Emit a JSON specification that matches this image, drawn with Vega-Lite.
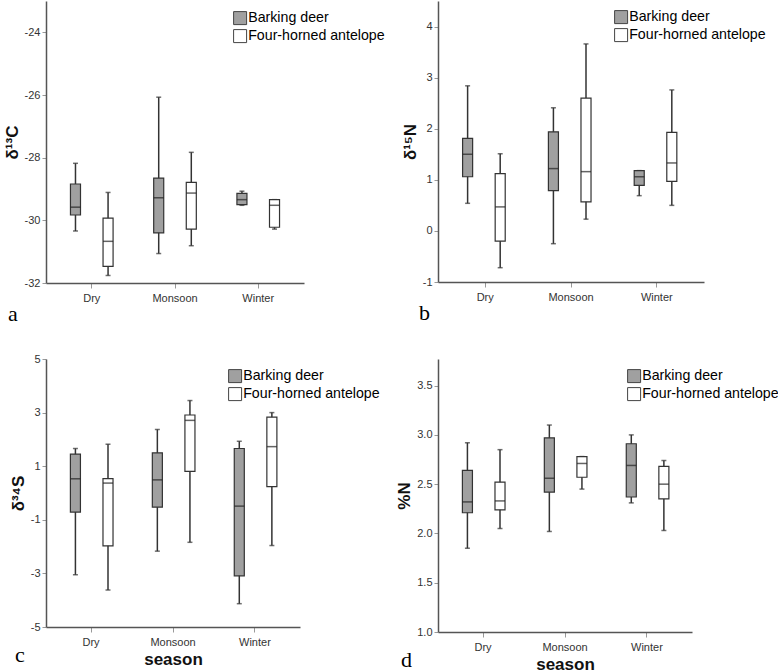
{
  "$schema": "https://vega.github.io/schema/vega-lite/v6.json",
  "background": "white",
  "padding": {"left": 3, "top": 1, "right": 0, "bottom": 0},
  "config": {
    "view": {"stroke": null},
    "font": "Liberation Sans",
    "axis": {"grid": false, "domainColor": "#555", "domainWidth": 1.5, "tickColor": "#999", "tickSize": 4, "tickWidth": 1, "labelColor": "#333", "labelFontSize": 11, "labelFont": "Liberation Sans", "titleFont": "Liberation Sans", "titleFontSize": 17, "titleFontWeight": "bold", "titleColor": "#111"},
    "axisX": {"labelAngle": 0, "labelPadding": 4, "tickSize": 5, "domainWidth": 1.5},
    "axisY": {"labelPadding": 2, "titlePadding": 3, "labelExpr": "replace(datum.label, '−', '-')"},
    "legend": {"orient": "none", "title": null, "symbolType": "square", "symbolSize": 169, "symbolStrokeColor": "#444", "symbolStrokeWidth": 1, "labelFontSize": 14.2, "labelFont": "Liberation Sans", "labelColor": "#000", "rowPadding": 0, "labelOffset": 1},
    "title": {"font": "Liberation Serif", "fontSize": 22, "fontWeight": "normal", "color": "#000", "orient": "bottom", "anchor": "start", "frame": "group"}
  },
  "datasets": {
    "c13": [
      {"season": "Dry", "species": "Barking deer", "min": -30.34, "q1": -29.83, "median": -29.58, "q3": -28.84, "max": -28.18},
      {"season": "Dry", "species": "Four-horned antelope", "min": -31.76, "q1": -31.47, "median": -30.67, "q3": -29.93, "max": -29.11},
      {"season": "Monsoon", "species": "Barking deer", "min": -31.06, "q1": -30.40, "median": -29.28, "q3": -28.65, "max": -26.07},
      {"season": "Monsoon", "species": "Four-horned antelope", "min": -30.81, "q1": -30.28, "median": -29.13, "q3": -28.79, "max": -27.83},
      {"season": "Winter", "species": "Barking deer", "min": -29.52, "q1": -29.50, "median": -29.34, "q3": -29.14, "max": -29.07},
      {"season": "Winter", "species": "Four-horned antelope", "min": -30.28, "q1": -30.22, "median": -29.52, "q3": -29.34, "max": -29.34}
    ],
    "n15": [
      {"season": "Dry", "species": "Barking deer", "min": 0.54, "q1": 1.06, "median": 1.50, "q3": 1.81, "max": 2.84},
      {"season": "Dry", "species": "Four-horned antelope", "min": -0.72, "q1": -0.20, "median": 0.47, "q3": 1.12, "max": 1.51},
      {"season": "Monsoon", "species": "Barking deer", "min": -0.25, "q1": 0.79, "median": 1.22, "q3": 1.94, "max": 2.41},
      {"season": "Monsoon", "species": "Four-horned antelope", "min": 0.23, "q1": 0.57, "median": 1.16, "q3": 2.60, "max": 3.66},
      {"season": "Winter", "species": "Barking deer", "min": 0.69, "q1": 0.89, "median": 1.06, "q3": 1.18, "max": 1.18},
      {"season": "Winter", "species": "Four-horned antelope", "min": 0.50, "q1": 0.97, "median": 1.33, "q3": 1.93, "max": 2.76}
    ],
    "s34": [
      {"season": "Dry", "species": "Barking deer", "min": -3.05, "q1": -0.71, "median": 0.53, "q3": 1.45, "max": 1.66},
      {"season": "Dry", "species": "Four-horned antelope", "min": -3.62, "q1": -1.97, "median": 0.37, "q3": 0.54, "max": 1.82},
      {"season": "Monsoon", "species": "Barking deer", "min": -2.17, "q1": -0.53, "median": 0.49, "q3": 1.50, "max": 2.37},
      {"season": "Monsoon", "species": "Four-horned antelope", "min": -1.84, "q1": 0.81, "median": 2.71, "q3": 2.91, "max": 3.45},
      {"season": "Winter", "species": "Barking deer", "min": -4.13, "q1": -3.09, "median": -0.49, "q3": 1.66, "max": 1.93},
      {"season": "Winter", "species": "Four-horned antelope", "min": -1.96, "q1": 0.24, "median": 1.73, "q3": 2.83, "max": 3.00}
    ],
    "pn": [
      {"season": "Dry", "species": "Barking deer", "min": 1.85, "q1": 2.21, "median": 2.32, "q3": 2.64, "max": 2.92},
      {"season": "Dry", "species": "Four-horned antelope", "min": 2.05, "q1": 2.24, "median": 2.33, "q3": 2.52, "max": 2.85},
      {"season": "Monsoon", "species": "Barking deer", "min": 2.02, "q1": 2.42, "median": 2.56, "q3": 2.97, "max": 3.10},
      {"season": "Monsoon", "species": "Four-horned antelope", "min": 2.45, "q1": 2.57, "median": 2.71, "q3": 2.78, "max": 2.78},
      {"season": "Winter", "species": "Barking deer", "min": 2.31, "q1": 2.37, "median": 2.69, "q3": 2.91, "max": 3.00},
      {"season": "Winter", "species": "Four-horned antelope", "min": 2.03, "q1": 2.35, "median": 2.50, "q3": 2.68, "max": 2.74}
    ]
  },
  "bounds": "flush",
  "columns": 2,
  "spacing": {"row": 76, "column": 134},
  "resolve": {"scale": {"x": "independent", "y": "independent", "fill": "independent"}, "axis": {"x": "independent", "y": "independent"}, "legend": {"fill": "independent"}},
  "concat": [
    {
      "width": 258, "height": 282,
      "data": {"name": "c13"},
      "title": {"text": "a", "dx": -38, "offset": 1},
      "encoding": {
        "x": {"field": "season", "type": "nominal", "title": null, "scale": {"paddingInner": 0, "paddingOuter": 0.05}},
        "xOffset": {"field": "species", "type": "nominal", "scale": {"paddingInner": 0.692, "paddingOuter": 0.623}}
      },
      "layer": [
        {"mark": {"type": "rule", "color": "#333", "strokeWidth": 1.5}, "encoding": {"y": {"field": "min", "type": "quantitative", "title": "δ¹³C", "scale": {"domain": [-32, -23], "nice": false, "zero": false}, "axis": {"values": [-32, -30, -28, -26, -24], "format": "d"}}, "y2": {"field": "max"}}},
        {"mark": {"type": "tick", "size": 5, "thickness": 1.5, "color": "#333"}, "encoding": {"y": {"field": "min", "type": "quantitative", "title": "δ¹³C"}}},
        {"mark": {"type": "tick", "size": 5, "thickness": 1.5, "color": "#333"}, "encoding": {"y": {"field": "max", "type": "quantitative", "title": "δ¹³C"}}},
        {"mark": {"type": "bar", "stroke": "#333", "strokeWidth": 1.2}, "encoding": {"y": {"field": "q1", "type": "quantitative", "title": "δ¹³C"}, "y2": {"field": "q3"}, "fill": {"field": "species", "type": "nominal", "scale": {"domain": ["Barking deer", "Four-horned antelope"], "range": ["#a0a0a0", "#ffffff"]}, "legend": {"legendX": 187, "legendY": 10}}}},
        {"mark": {"type": "tick", "size": 10, "thickness": 1.5, "color": "#222"}, "encoding": {"y": {"field": "median", "type": "quantitative", "title": "δ¹³C"}}}
      ]
    },
    {
      "width": 266, "height": 281,
      "data": {"name": "n15"},
      "title": {"text": "b", "dx": -19, "offset": 1},
      "encoding": {
        "x": {"field": "season", "type": "nominal", "title": null, "scale": {"paddingInner": 0, "paddingOuter": 0.05}},
        "xOffset": {"field": "species", "type": "nominal", "scale": {"paddingInner": 0.692, "paddingOuter": 0.623}}
      },
      "layer": [
        {"mark": {"type": "rule", "color": "#333", "strokeWidth": 1.5}, "encoding": {"y": {"field": "min", "type": "quantitative", "title": "δ¹⁵N", "scale": {"domain": [-1, 4.5], "nice": false, "zero": false}, "axis": {"values": [-1, 0, 1, 2, 3, 4], "format": "d"}}, "y2": {"field": "max"}}},
        {"mark": {"type": "tick", "size": 5, "thickness": 1.5, "color": "#333"}, "encoding": {"y": {"field": "min", "type": "quantitative", "title": "δ¹⁵N"}}},
        {"mark": {"type": "tick", "size": 5, "thickness": 1.5, "color": "#333"}, "encoding": {"y": {"field": "max", "type": "quantitative", "title": "δ¹⁵N"}}},
        {"mark": {"type": "bar", "stroke": "#333", "strokeWidth": 1.2}, "encoding": {"y": {"field": "q1", "type": "quantitative", "title": "δ¹⁵N"}, "y2": {"field": "q3"}, "fill": {"field": "species", "type": "nominal", "scale": {"domain": ["Barking deer", "Four-horned antelope"], "range": ["#a0a0a0", "#ffffff"]}, "legend": {"legendX": 176, "legendY": 9}}}},
        {"mark": {"type": "tick", "size": 10, "thickness": 1.5, "color": "#222"}, "encoding": {"y": {"field": "median", "type": "quantitative", "title": "δ¹⁵N"}}}
      ]
    },
    {
      "width": 254, "height": 268,
      "data": {"name": "s34"},
      "title": {"text": "c", "dx": -31, "offset": -22},
      "encoding": {
        "x": {"field": "season", "type": "nominal", "title": "season", "axis": {"titleFontSize": 17, "titlePadding": 4}, "scale": {"paddingInner": 0, "paddingOuter": 0.05}},
        "xOffset": {"field": "species", "type": "nominal", "scale": {"paddingInner": 0.692, "paddingOuter": 0.623}}
      },
      "layer": [
        {"mark": {"type": "rule", "color": "#333", "strokeWidth": 1.5}, "encoding": {"y": {"field": "min", "type": "quantitative", "title": "δ³⁴S", "scale": {"domain": [-5, 5], "nice": false, "zero": false}, "axis": {"values": [-5, -3, -1, 1, 3, 5], "format": "d"}}, "y2": {"field": "max"}}},
        {"mark": {"type": "tick", "size": 5, "thickness": 1.5, "color": "#333"}, "encoding": {"y": {"field": "min", "type": "quantitative", "title": "δ³⁴S"}}},
        {"mark": {"type": "tick", "size": 5, "thickness": 1.5, "color": "#333"}, "encoding": {"y": {"field": "max", "type": "quantitative", "title": "δ³⁴S"}}},
        {"mark": {"type": "bar", "stroke": "#333", "strokeWidth": 1.2}, "encoding": {"y": {"field": "q1", "type": "quantitative", "title": "δ³⁴S"}, "y2": {"field": "q3"}, "fill": {"field": "species", "type": "nominal", "scale": {"domain": ["Barking deer", "Four-horned antelope"], "range": ["#a0a0a0", "#ffffff"]}, "legend": {"legendX": 182, "legendY": 10}}}},
        {"mark": {"type": "tick", "size": 10, "thickness": 1.5, "color": "#222"}, "encoding": {"y": {"field": "median", "type": "quantitative", "title": "δ³⁴S"}}}
      ]
    },
    {
      "width": 254, "height": 273,
      "data": {"name": "pn"},
      "title": {"text": "d", "dx": -37, "offset": -22},
      "encoding": {
        "x": {"field": "season", "type": "nominal", "title": "season", "axis": {"titleFontSize": 17, "titlePadding": 4}, "scale": {"paddingInner": 0, "paddingOuter": 0.05}},
        "xOffset": {"field": "species", "type": "nominal", "scale": {"paddingInner": 0.692, "paddingOuter": 0.623}}
      },
      "layer": [
        {"mark": {"type": "rule", "color": "#333", "strokeWidth": 1.5}, "encoding": {"y": {"field": "min", "type": "quantitative", "title": "%N", "scale": {"domain": [1, 3.77], "nice": false, "zero": false}, "axis": {"values": [1, 1.5, 2, 2.5, 3, 3.5], "format": ".1f"}}, "y2": {"field": "max"}}},
        {"mark": {"type": "tick", "size": 5, "thickness": 1.5, "color": "#333"}, "encoding": {"y": {"field": "min", "type": "quantitative", "title": "%N"}}},
        {"mark": {"type": "tick", "size": 5, "thickness": 1.5, "color": "#333"}, "encoding": {"y": {"field": "max", "type": "quantitative", "title": "%N"}}},
        {"mark": {"type": "bar", "stroke": "#333", "strokeWidth": 1.2}, "encoding": {"y": {"field": "q1", "type": "quantitative", "title": "%N"}, "y2": {"field": "q3"}, "fill": {"field": "species", "type": "nominal", "scale": {"domain": ["Barking deer", "Four-horned antelope"], "range": ["#a0a0a0", "#ffffff"]}, "legend": {"legendX": 189, "legendY": 10}}}},
        {"mark": {"type": "tick", "size": 10, "thickness": 1.5, "color": "#222"}, "encoding": {"y": {"field": "median", "type": "quantitative", "title": "%N"}}}
      ]
    }
  ]
}
